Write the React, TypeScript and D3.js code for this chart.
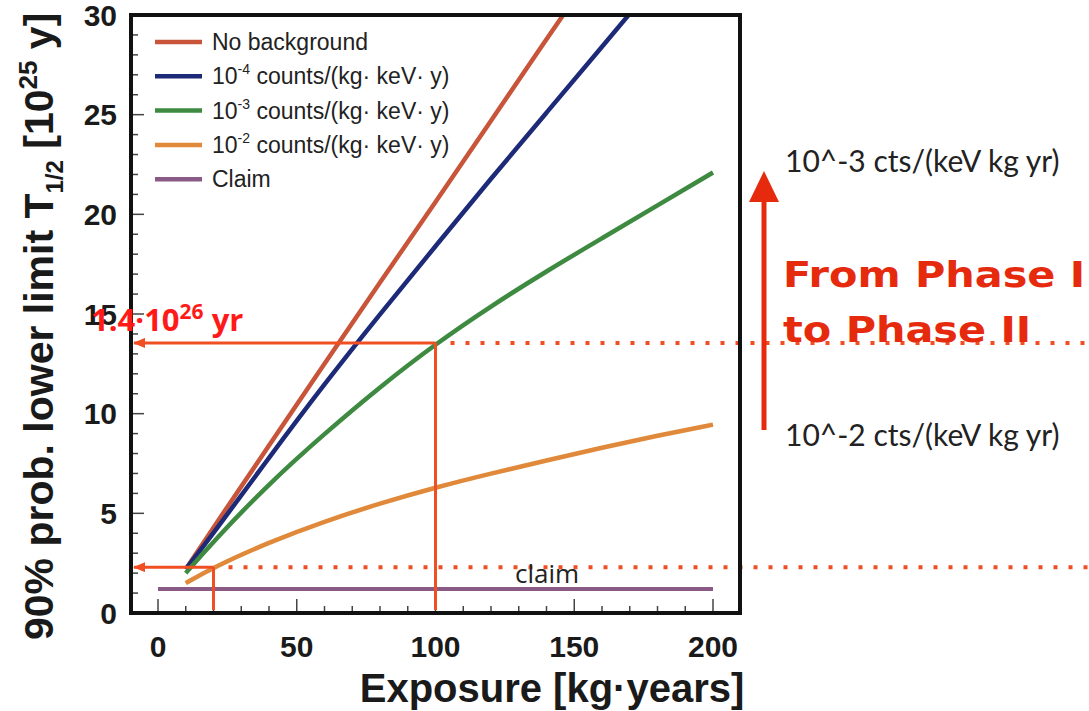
import React from 'react';
import * as d3 from 'd3';

// series (exposure in kg·years, limit in 10^25 y)
const exposureNoBg = [10, 20, 40, 60, 80, 100, 120, 140, 150];
const limitNoBg = [2.2, 4.3, 8.4, 12.5, 16.6, 20.6, 24.7, 28.8, 30.8];

const exposureBg4 = [10, 20, 40, 60, 80, 100, 120, 140, 160, 175];
const limitBg4 = [2.2, 4.0, 7.8, 11.5, 15.0, 18.4, 21.8, 25.1, 28.4, 30.9];

const exposureBg3 = [10, 20, 40, 60, 80, 100, 120, 140, 160, 180, 200];
const limitBg3 = [2.0, 3.6, 6.5, 9.0, 11.35, 13.5, 15.4, 17.15, 18.8, 20.45, 22.1];

const exposureBg2 = [10, 20, 40, 60, 80, 100, 120, 140, 160, 180, 200];
const limitBg2 = [1.5, 2.3, 3.55, 4.6, 5.5, 6.3, 7.0, 7.65, 8.3, 8.9, 9.45];

const claimExposure = [0, 200];
const claimLimit = [1.2, 1.2];

const legendBase = ['No background', '10', '10', '10', 'Claim'];
const legendExp = ['', '-4', '-3', '-2', ''];
const legendRest = ['', ' counts/(kg· keV· y)', ' counts/(kg· keV· y)', ' counts/(kg· keV· y)', ''];
const colors = ['#c8553a', '#1d2a78', '#3d8a40', '#e0893a', '#8a5a86'];

const xTicks = [0, 50, 100, 150, 200];
const yTicks = [0, 5, 10, 15, 20, 25, 30];

// the two read-off markers
const markExposure = [20, 100];
const markLimit = [2.3, 13.55];

const W = 1089;
const H = 711;
const left = 131, right = 740, top = 15, bottom = 613;

const App = () => {
  const x = d3.scaleLinear().domain([0, 200]).range([158, 713]);
  const y = d3.scaleLinear().domain([0, 30]).range([613, 15]);

  const series = [
    { xs: exposureNoBg, ys: limitNoBg },
    { xs: exposureBg4, ys: limitBg4 },
    { xs: exposureBg3, ys: limitBg3 },
    { xs: exposureBg2, ys: limitBg2 },
    { xs: claimExposure, ys: claimLimit },
  ];

  const line = d3.line<[number, number]>()
    .x(d => x(d[0]))
    .y(d => y(d[1]))
    .curve(d3.curveBasis);

  const minorX = d3.range(0, 201, 10);
  const minorY = d3.range(0, 31, 1);
  const red = '#f04e23';

  return (
    <svg width={W} height={H} style={{ display: 'block', background: '#fff' }}>
      <style>{`body{margin:0}`}</style>
      <defs>
        <clipPath id="plot">
          <rect x={left} y={top} width={right - left} height={bottom - top} />
        </clipPath>
        <marker id="head" viewBox="0 0 12 10" refX="11" refY="5" markerWidth="12" markerHeight="10"
          markerUnits="userSpaceOnUse" orient="auto">
          <path d="M0,0 L12,5 L0,10 Z" fill={red} />
        </marker>
      </defs>

      {/* ticks */}
      <g stroke="#444" strokeWidth={1.5}>
        {minorX.map(v => (
          <line key={'mx' + v} x1={x(v)} x2={x(v)} y1={bottom} y2={bottom - (v % 50 === 0 ? 14 : 7)} />
        ))}
        {minorY.map(v => (
          <line key={'my' + v} x1={left} x2={left + (v % 5 === 0 ? 13 : 7)} y1={y(v)} y2={y(v)} />
        ))}
      </g>

      {/* curves */}
      <g clipPath="url(#plot)" fill="none">
        {series.map((s, i) => (
          <path key={i} d={line(s.xs.map((v, j) => [v, s.ys[j]]) as [number, number][]) || ''}
            stroke={colors[i]} strokeWidth={i === 4 ? 4 : 4.5} />
        ))}
      </g>

      {/* read-off markers */}
      <g stroke={red} fill="none">
        {markExposure.map((e, i) => (
          <g key={i}>
            <line x1={x(e)} x2={left + 3} y1={y(markLimit[i])} y2={y(markLimit[i])} strokeWidth={3} markerEnd="url(#head)" />
            <line x1={x(e)} x2={x(e)} y1={y(markLimit[i])} y2={bottom - 3} strokeWidth={3} />
            <line x1={x(e) + 15} x2={W} y1={y(markLimit[i])} y2={y(markLimit[i])} strokeWidth={4} strokeDasharray="4 11" />
          </g>
        ))}
      </g>

      {/* frame */}
      <rect x={left} y={top} width={right - left} height={bottom - top} fill="none" stroke="#111" strokeWidth={4} />

      {/* tick labels */}
      <g fontFamily="'Liberation Sans', Arial, sans-serif" fontWeight="bold" fontSize={30} fill="#1a1a1a">
        {xTicks.map(v => (
          <text key={'xt' + v} x={x(v)} y={657} textAnchor="middle">{v}</text>
        ))}
        {yTicks.map(v => (
          <text key={'yt' + v} x={117} y={y(v)} dy="0.36em" textAnchor="end">{v}</text>
        ))}
      </g>

      {/* axis titles */}
      <text x={552} y={702} textAnchor="middle" fontFamily="'Liberation Sans', Arial, sans-serif"
        fontWeight="bold" fontSize={40} fill="#1a1a1a">Exposure [kg·years]</text>
      <text transform="translate(53,640) rotate(-90)" fontFamily="'Liberation Sans', Arial, sans-serif"
        fontWeight="bold" fontSize={41} fill="#1a1a1a">
        90% prob. lower limit T
        <tspan fontSize={24} dy={10}>1/2</tspan>
        <tspan dy={-10}> [10</tspan>
        <tspan fontSize={26} dy={-16}>25</tspan>
        <tspan dy={16}> y]</tspan>
      </text>

      {/* legend */}
      <g fontFamily="'Liberation Sans', Arial, sans-serif" fontSize={23} fill="#222">
        {legendBase.map((b, i) => {
          const ly = 42 + i * 34.3;
          return (
            <g key={i}>
              <line x1={155} x2={202} y1={ly} y2={ly} stroke={colors[i]} strokeWidth={4.5} />
              <text x={212} y={ly + 8}>
                {b}
                {legendExp[i] && <tspan fontSize={14} dy={-10}>{legendExp[i]}</tspan>}
                {legendRest[i] && <tspan dy={10}>{legendRest[i]}</tspan>}
              </text>
            </g>
          );
        })}
      </g>

      {/* annotations */}
      <text x={91} y={331} fontFamily="'Open Sans', sans-serif" fontWeight="bold" fontSize={31} fill="#ff1a1a">
        1.4·10<tspan fontSize={21} dy={-12}>26</tspan><tspan dy={12}> yr</tspan>
      </text>
      <text x={515} y={583} fontFamily="'Open Sans', sans-serif" fontSize={26} fill="#222">claim</text>

      <g fontFamily="Lato, sans-serif" fontSize={30} fill="#222">
        <text x={785} y={172}>10^-3 cts/(keV kg yr)</text>
        <text x={785} y={446}>10^-2 cts/(keV kg yr)</text>
      </g>
      <line x1={764} x2={764} y1={430} y2={198} stroke="#e62a0e" strokeWidth={5} />
      <path d="M749,202 L764,171 L779,202 Z" fill="#e62a0e" />
      <g fontFamily="'DejaVu Sans', sans-serif" fontWeight="bold" fontSize={36} fill="#e62a0e">
        <text transform="translate(783,287) scale(1.15,1)">From Phase I</text>
        <text transform="translate(783,342) scale(1.15,1)">to Phase II</text>
      </g>
    </svg>
  );
};

export default App;
